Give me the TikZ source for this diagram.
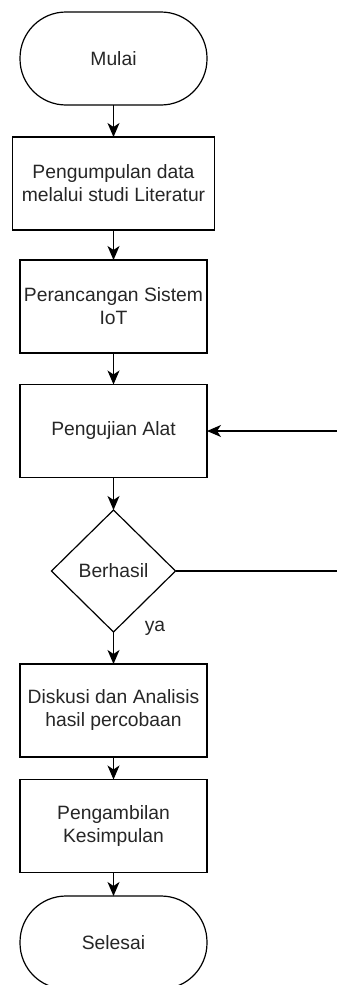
\documentclass[tikz,border=0pt]{standalone}
\usepackage{fontspec}
\setmainfont{Liberation Sans}
\usetikzlibrary{shapes.geometric,arrows.meta}
\begin{document}
\begin{tikzpicture}[x=1pt,y=-1pt,
  every node/.style={font=\fontsize{19.3}{23}\selectfont, text=black!85, inner sep=0pt, outer sep=0pt},
  proses/.style={draw, line width=1.2pt, minimum width=187pt, minimum height=93pt, align=center},
  terminal/.style={draw, line width=1.2pt, rounded corners=46pt, minimum width=187pt, minimum height=93pt},
  keputusan/.style={draw, diamond, line width=1.2pt, minimum width=124pt, minimum height=122pt},
  panah/.style={line width=1.2pt, -{Stealth[length=14pt,width=12pt,inset=4pt]}}]
\useasboundingbox (0,0) rectangle (337,985);
\node (mulai)   at (113.5,58.5)  [terminal] {Mulai};
%
\node (studi)   at (113.5,183.5) [proses, minimum width=202pt] {Pengumpulan data\\melalui studi Literatur};
\node (rancang) at (113.5,306.5) [proses] {Perancangan Sistem\\IoT};
\node (uji)     at (113.5,431)   [proses] {Pengujian Alat};
%
\node (cek)     at (113.5,571)   [keputusan] {Berhasil};
\node (ya)      at (155,628)     {ya};
%
\node (diskusi) at (113.5,710.5) [proses] {Diskusi dan Analisis\\hasil percobaan};
\node (simpul)  at (113.5,826)   [proses] {Pengambilan\\Kesimpulan};
\node (selesai) at (113.5,942.5) [terminal] {Selesai};
%
\coordinate (balik) at (338,571);
%
\draw[panah] (mulai) -- (studi);
\draw[panah] (studi) -- (rancang);
\draw[panah] (rancang) -- (uji);
\draw[panah] (uji) -- (cek);
\draw[panah] (cek) -- (diskusi);
\draw[panah] (diskusi) -- (simpul);
\draw[panah] (simpul) -- (selesai);
% gagal
\draw[panah] (cek.east) -- (balik) |- (uji.east);
\end{tikzpicture}
\end{document}
